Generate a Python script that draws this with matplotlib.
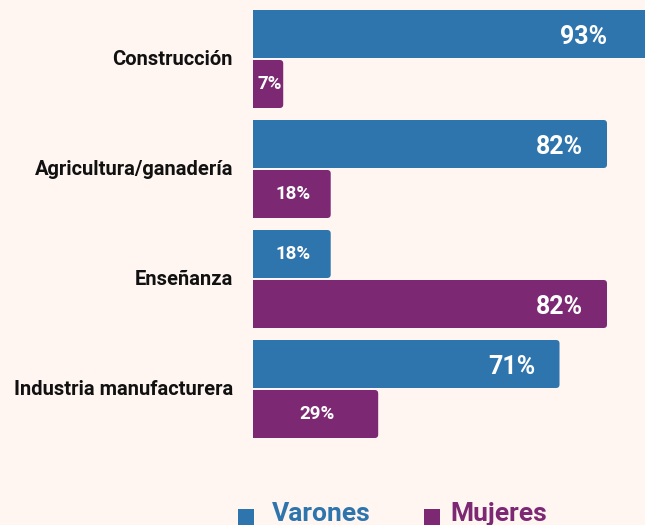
import matplotlib
matplotlib.use("Agg")
import matplotlib.pyplot as plt
from matplotlib.patches import FancyBboxPatch, Rectangle

categories = ["Construcción", "Agricultura/ganadería", "Enseñanza", "Industria manufacturera"]
varones = [93, 82, 18, 71]
mujeres = [7, 18, 82, 29]
series_names = ["Varones", "Mujeres"]

BLUE = "#2E75AE"
PURPLE = "#7D2873"
BG = "#FFF6F1"

plt.rcParams["font.family"] = ["Roboto", "DejaVu Sans"]

W, H = 645, 525
fig = plt.figure(figsize=(W / 100, H / 100), dpi=100, facecolor=BG)
ax_left, ax_top, ax_bottom = 253, 0, 448
ax = fig.add_axes([ax_left / W, 1 - ax_bottom / H, (W - ax_left) / W, (ax_bottom - ax_top) / H])
ax.set_facecolor(BG)

xmax = 90.8
group = 110.0
ax.set_xlim(0, xmax)
ax.set_ylim(ax_bottom / group, ax_top / group)

px_x = (W - ax_left) / xmax  # pixels per data unit in x
bar_h = 48 / group
offsets = [34 / group, 84 / group]
rx = 3.5 / px_x
ry = 3.5 / group

for si, (vals, col) in enumerate([(varones, BLUE), (mujeres, PURPLE)]):
    for i, v in enumerate(vals):
        yc = i + offsets[si]
        p = FancyBboxPatch((-2, yc - bar_h / 2), v + 2, bar_h,
                           boxstyle=f"round,pad=0,rounding_size={rx}",
                           mutation_aspect=ry / rx, facecolor=col, edgecolor="none")
        ax.add_patch(p)
        if v >= 50:
            xpos = min(v, xmax * 0.965)
            ax.annotate(f"{v}%", (xpos, yc), xytext=(-24, 0), textcoords="offset pixels",
                        ha="right", va="center_baseline", color="white", fontsize=18,
                        fontweight="bold")
        else:
            ax.text(v / 2 + 0.3, yc, f"{v}%", ha="center", va="center", color="white",
                    fontsize=13.5, fontweight="bold")

ax.set_yticks([i + 57.5 / group for i in range(len(categories))])
ax.set_yticklabels(categories, fontsize=14.5, fontweight="bold", color="#111111")
ax.tick_params(axis="y", length=0, pad=14.4)
ax.set_xticks([])
for s in ax.spines.values():
    s.set_visible(False)

# legend
leg = [(238, 272, BLUE, series_names[0]), (424, 450, PURPLE, series_names[1])]
for sx, tx, col, name in leg:
    fig.patches.append(Rectangle((sx / W, 1 - 525 / H), 16 / W, 16 / H,
                                 transform=fig.transFigure, facecolor=col, edgecolor="none"))
    fig.text(tx / W, 1 - 521 / H, name, color=col, fontsize=19, fontweight="bold",
             ha="left", va="baseline")

fig.savefig("out.png", dpi=100, facecolor=BG)
